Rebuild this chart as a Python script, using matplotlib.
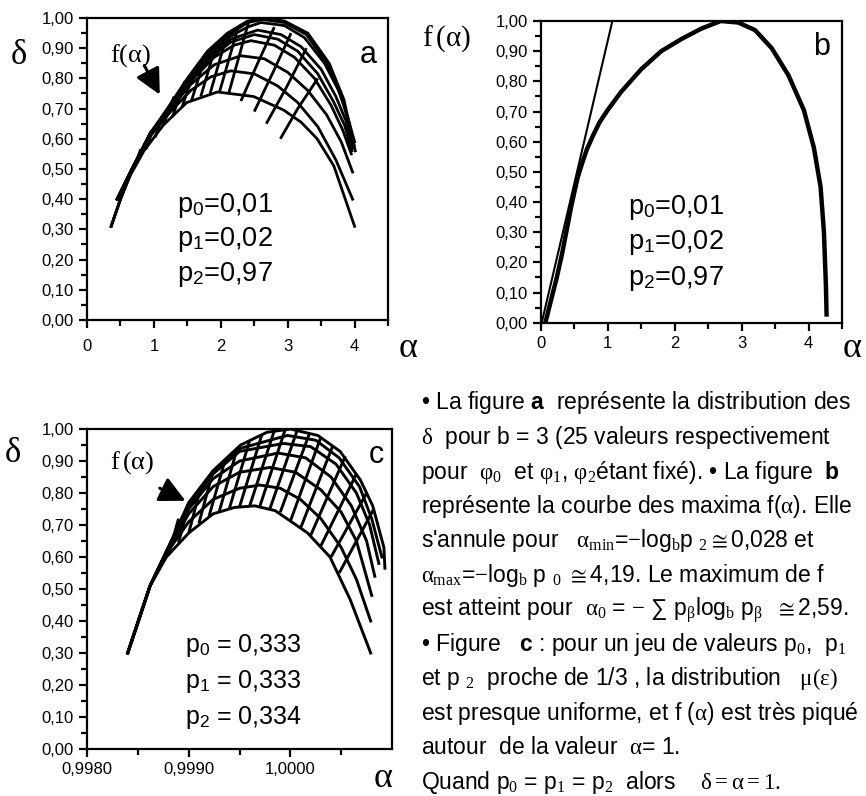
import matplotlib
matplotlib.use('Agg')
import matplotlib.pyplot as plt
from matplotlib.ticker import FixedLocator, FuncFormatter

plt.rcParams['font.family'] = ['Liberation Sans', 'DejaVu Sans']
plt.rcParams['mathtext.fontset'] = 'custom'
plt.rcParams['mathtext.rm'] = 'Liberation Serif'
plt.rcParams['mathtext.it'] = 'Liberation Serif'
plt.rcParams['mathtext.bf'] = 'Liberation Sans:bold'
plt.rcParams['mathtext.sf'] = 'Liberation Sans'

# ---- panel a : mesh of delta(alpha), p = 0.01, 0.02, 0.97
# first family (nested arches), bottom -> top
a_rows_alpha = [
    [0.36, 0.50, 0.65, 0.85, 1.14, 1.49, 1.95, 2.49, 2.94, 3.20, 3.44, 3.69, 4.00],
    [0.45, 0.65, 0.95, 1.25, 1.55, 1.85, 2.15, 2.50, 2.85, 3.15, 3.45, 3.72, 3.97],
    [0.45, 0.65, 0.95, 1.25, 1.55, 1.90, 2.30, 2.65, 3.00, 3.30, 3.58, 3.80, 3.97],
    [0.45, 0.65, 0.95, 1.25, 1.55, 1.90, 2.20, 2.45, 2.80, 3.10, 3.40, 3.65, 3.82, 3.95],
    [0.45, 0.65, 0.95, 1.25, 1.55, 1.85, 2.15, 2.50, 2.85, 3.15, 3.45, 3.68, 3.85, 3.96],
    [0.45, 0.65, 0.95, 1.25, 1.55, 1.85, 2.15, 2.55, 2.90, 3.20, 3.50, 3.72, 3.87, 3.98],
    [0.45, 0.65, 0.95, 1.25, 1.55, 1.85, 2.15, 2.40, 2.60, 2.95, 3.25, 3.55, 3.76, 3.90, 4.00],
    [0.36, 0.50, 0.65, 0.95, 1.22, 1.52, 1.82, 2.12, 2.40, 2.63, 2.95, 3.28, 3.60, 3.82, 3.99],
    [0.36, 0.50, 0.65, 0.95, 1.20, 1.50, 1.80, 2.10, 2.40, 2.65, 2.95, 3.30, 3.62, 3.84, 4.01],
]
a_rows_delta = [
    [0.31, 0.40, 0.48, 0.56, 0.645, 0.72, 0.755, 0.74, 0.695, 0.655, 0.60, 0.51, 0.31],
    [0.40, 0.49, 0.61, 0.69, 0.76, 0.805, 0.825, 0.815, 0.775, 0.72, 0.64, 0.53, 0.40],
    [0.40, 0.49, 0.615, 0.70, 0.78, 0.845, 0.875, 0.865, 0.82, 0.76, 0.68, 0.59, 0.49],
    [0.40, 0.49, 0.62, 0.70, 0.79, 0.87, 0.91, 0.925, 0.91, 0.87, 0.80, 0.71, 0.63, 0.55],
    [0.40, 0.49, 0.62, 0.70, 0.79, 0.87, 0.92, 0.945, 0.93, 0.89, 0.815, 0.725, 0.645, 0.56],
    [0.40, 0.49, 0.62, 0.70, 0.795, 0.875, 0.93, 0.96, 0.945, 0.905, 0.83, 0.74, 0.66, 0.57],
    [0.40, 0.49, 0.62, 0.70, 0.80, 0.885, 0.94, 0.97, 0.985, 0.975, 0.935, 0.85, 0.76, 0.67, 0.59],
    [0.31, 0.40, 0.49, 0.62, 0.70, 0.80, 0.885, 0.945, 0.985, 0.995, 0.985, 0.945, 0.845, 0.73, 0.58],
    [0.31, 0.40, 0.49, 0.62, 0.70, 0.80, 0.89, 0.95, 0.99, 1.00, 0.99, 0.95, 0.85, 0.73, 0.56],
]
# second family (cross strokes)
a_cols_alpha = [
    [0.72, 0.80], [0.88, 0.96], [1.02, 1.10],
    [1.14, 1.30], [1.28, 1.46], [1.42, 1.62], [1.56, 1.78], [1.70, 1.94],
    [1.84, 2.10], [1.98, 2.26], [2.12, 2.42],
    [2.30, 2.55, 2.80], [2.50, 2.78, 3.05], [2.68, 2.98, 3.28], [2.89, 3.15, 3.45],
]
a_cols_delta = [
    [0.51, 0.565], [0.565, 0.615], [0.605, 0.66],
    [0.645, 0.74], [0.675, 0.79], [0.705, 0.835], [0.725, 0.88], [0.74, 0.92],
    [0.75, 0.95], [0.755, 0.97], [0.752, 0.99],
    [0.725, 0.85, 0.97], [0.69, 0.82, 0.95], [0.65, 0.77, 0.90], [0.60, 0.70, 0.80],
]

# ---- panel b : f(alpha) and its tangent
b_alpha = [0.07, 0.16, 0.24, 0.32, 0.39, 0.46, 0.55, 0.62, 0.69, 0.78, 0.88, 1.00,
           1.20, 1.50, 1.80, 2.10, 2.40, 2.69, 2.95, 3.20, 3.45, 3.70, 3.93, 4.08,
           4.18, 4.23, 4.26, 4.27]
b_f = [0.00, 0.08, 0.15, 0.23, 0.31, 0.39, 0.48, 0.53, 0.575, 0.62, 0.665, 0.705,
       0.765, 0.84, 0.90, 0.94, 0.975, 1.00, 0.995, 0.97, 0.91, 0.82, 0.705, 0.58,
       0.45, 0.30, 0.12, 0.02]
tan_alpha = [0.015, 1.07]
tan_f = [0.0, 1.0]

# ---- panel c : mesh, p = 0.333, 0.333, 0.334
c_rows_alpha = [
    [0.99840, 0.99862, 0.99878, 0.99900, 0.99924, 0.99945, 0.99965, 0.99985,
     1.00003, 1.00017, 1.00039, 1.00059, 1.00079],
    [0.99840, 0.99862, 0.99880, 0.99900, 0.99924, 0.99950, 0.99970, 0.99990,
     1.00010, 1.00030, 1.00050, 1.00065, 1.00079],
    [0.99840, 0.99862, 0.99880, 0.99900, 0.99924, 0.99950, 0.99980, 1.00005,
     1.00030, 1.00050, 1.00065, 1.00080],
    [0.99840, 0.99862, 0.99880, 0.99900, 0.99924, 0.99950, 0.99988, 1.00015,
     1.00040, 1.00060, 1.00075, 1.00083],
    [0.99840, 0.99862, 0.99880, 0.99900, 0.99924, 0.99950, 0.99993, 1.00020,
     1.00045, 1.00065, 1.00078, 1.00087],
    [0.99840, 0.99862, 0.99880, 0.99900, 0.99924, 0.99951, 0.99997, 1.00025,
     1.00048, 1.00068, 1.00080, 1.00090],
    [0.99840, 0.99862, 0.99880, 0.99900, 0.99924, 0.99951, 0.99977, 1.00000,
     1.00027, 1.00049, 1.00069, 1.00081, 1.00092, 1.00093],
]
c_rows_delta = [
    [0.30, 0.51, 0.60, 0.675, 0.735, 0.755, 0.76, 0.745, 0.706, 0.675, 0.60, 0.466, 0.30],
    [0.30, 0.51, 0.62, 0.71, 0.78, 0.815, 0.825, 0.815, 0.78, 0.72, 0.63, 0.53, 0.40],
    [0.30, 0.51, 0.625, 0.735, 0.82, 0.865, 0.88, 0.865, 0.81, 0.74, 0.65, 0.48],
    [0.30, 0.51, 0.63, 0.75, 0.845, 0.90, 0.925, 0.91, 0.85, 0.76, 0.65, 0.54],
    [0.30, 0.51, 0.63, 0.76, 0.86, 0.93, 0.955, 0.945, 0.89, 0.80, 0.70, 0.58],
    [0.30, 0.51, 0.63, 0.765, 0.865, 0.94, 0.98, 0.965, 0.91, 0.82, 0.72, 0.60],
    [0.30, 0.51, 0.63, 0.77, 0.87, 0.95, 0.99, 1.00, 0.98, 0.93, 0.84, 0.76, 0.63, 0.565],
]
c_cols_alpha = [
    [0.99880, 0.99890], [0.99890, 0.99901], [0.99900, 0.99912], [0.99910, 0.99924],
    [0.99920, 0.99936], [0.99930, 0.99948], [0.99940, 0.99960], [0.99950, 0.99972],
    [0.99960, 0.99984], [0.99970, 0.99995], [0.99980, 1.00007], [0.99990, 1.00019],
    [1.00000, 1.00030], [1.00010, 1.00042], [1.00020, 1.00054], [1.00030, 1.00065],
    [1.00040, 1.00075], [1.00048, 1.00082],
]
c_cols_delta = [
    [0.605, 0.72], [0.645, 0.775], [0.675, 0.82], [0.705, 0.87],
    [0.728, 0.905], [0.742, 0.942], [0.752, 0.965], [0.757, 0.983],
    [0.76, 0.993], [0.759, 0.999], [0.752, 0.999], [0.74, 0.988],
    [0.712, 0.975], [0.69, 0.95], [0.668, 0.915], [0.635, 0.86],
    [0.60, 0.80], [0.55, 0.75],
]

y_ticks = [0.0, 0.1, 0.2, 0.3, 0.4, 0.5, 0.6, 0.7, 0.8, 0.9, 1.0]
y_minor = [0.05, 0.15, 0.25, 0.35, 0.45, 0.55, 0.65, 0.75, 0.85, 0.95]
x_ticks_ab = [0, 1, 2, 3, 4]
x_minor_ab = [0.5, 1.5, 2.5, 3.5, 4.5]
x_ticks_c = [0.998, 0.999, 1.000]
x_minor_c = [0.9985, 0.9995, 1.0005]

p_text_ab = ['p$_\\mathsf{0}$=0,01', 'p$_\\mathsf{1}$=0,02', 'p$_\\mathsf{2}$=0,97']
p_text_c = ['p$_\\mathsf{0}$ = 0,333', 'p$_\\mathsf{1}$ = 0,333', 'p$_\\mathsf{2}$ = 0,334']

text_lines = [
    '• La figure $\\mathbf{a}$  représente la distribution des',
    '$\\delta$  pour b = 3 (25 valeurs respectivement',
    'pour  $\\varphi_0$  et $\\varphi_1$, $\\varphi_2$étant fixé). • La figure  $\\mathbf{b}$',
    'représente la courbe des maxima f($\\alpha$). Elle',
    "s'annule pour   $\\alpha_{\\mathrm{min}}$=$-$log$_{\\mathrm{b}}$p $_2\\cong$0,028 et",
    '$\\alpha_{\\mathrm{max}}$=$-$log$_{\\mathrm{b}}$ p $_0$ $\\cong$4,19. Le maximum de f',
    'est atteint pour  $\\alpha_0$ = $-$ ∑ p$_\\beta$log$_{\\mathrm{b}}$ p$_\\beta$  $\\cong$2,59.',
    '• Figure   $\\mathbf{c}$ : pour un jeu de valeurs p$_0$,  p$_1$',
    'et p $_2$  proche de 1/3 , la distribution   $\\mu(\\varepsilon)$',
    'est presque uniforme, et f ($\\alpha$) est très piqué',
    'autour  de la valeur  $\\alpha$= 1.',
    'Quand p$_0$ = p$_1$ = p$_2$  alors    $\\delta = \\alpha = 1.$',
]


def comma(v, pos):
    return ('%.2f' % v).replace('.', ',')


def style_axes(ax):
    for s in ax.spines.values():
        s.set_linewidth(1.6)
    ax.yaxis.set_major_locator(FixedLocator(y_ticks))
    ax.yaxis.set_minor_locator(FixedLocator(y_minor))
    ax.yaxis.set_major_formatter(FuncFormatter(comma))
    ax.tick_params(which='major', direction='out', length=6, width=1.6, labelsize=12)
    ax.tick_params(which='minor', direction='out', length=4, width=1.6)
    ax.set_ylim(0, 1.0)


fig = plt.figure(figsize=(8.66, 7.96), dpi=100)
ax_a = fig.add_axes([0.1005, 0.598, 0.3476, 0.3794])
ax_b = fig.add_axes([0.6244, 0.5946, 0.3479, 0.3790])
ax_c = fig.add_axes([0.1005, 0.059, 0.3522, 0.402])

# panel a
for xs, ys in zip(a_rows_alpha, a_rows_delta):
    ax_a.plot(xs, ys, color='black', lw=2.0, solid_joinstyle='round')
for xs, ys in zip(a_cols_alpha, a_cols_delta):
    ax_a.plot(xs, ys, color='black', lw=2.0, solid_capstyle='butt')
ax_a.set_xlim(0, 4.5)
ax_a.xaxis.set_major_locator(FixedLocator(x_ticks_ab))
ax_a.xaxis.set_minor_locator(FixedLocator(x_minor_ab))
style_axes(ax_a)
ax_a.tick_params(axis='x', pad=8)
for i, t in enumerate(p_text_ab):
    ax_a.text(0.30, 0.38 - i * 0.115, t, transform=ax_a.transAxes, fontsize=19.5, va='center')
ax_a.text(0.934, 0.877, 'a', transform=ax_a.transAxes, fontsize=22, ha='center', va='center')
ax_a.text(0.075, 0.877, '$\\mathrm{f(\\alpha)}$', transform=ax_a.transAxes, fontsize=19,
          va='center')
ax_a.annotate('', xy=(0.246, 0.738), xytext=(0.186, 0.851), xycoords='axes fraction',
              arrowprops=dict(arrowstyle='-|>,head_length=0.6,head_width=0.3',
                              color='black', lw=2.2, mutation_scale=26))

# panel b
ax_b.plot(b_alpha, b_f, color='black', lw=3.2, solid_capstyle='butt',
          solid_joinstyle='round')
ax_b.plot(tan_alpha, tan_f, color='black', lw=1.5)
ax_b.set_xlim(0, 4.5)
ax_b.xaxis.set_major_locator(FixedLocator(x_ticks_ab))
ax_b.xaxis.set_minor_locator(FixedLocator(x_minor_ab))
style_axes(ax_b)
for i, t in enumerate(p_text_ab):
    ax_b.text(0.29, 0.383 - i * 0.118, t, transform=ax_b.transAxes, fontsize=19.5, va='center')
ax_b.text(0.933, 0.915, 'b', transform=ax_b.transAxes, fontsize=22, ha='center', va='center')

# panel c
for xs, ys in zip(c_rows_alpha, c_rows_delta):
    ax_c.plot(xs, ys, color='black', lw=2.1, solid_joinstyle='round')
for xs, ys in zip(c_cols_alpha, c_cols_delta):
    ax_c.plot(xs, ys, color='black', lw=2.1, solid_capstyle='butt')
ax_c.set_xlim(0.998, 1.001)
ax_c.xaxis.set_major_locator(FixedLocator(x_ticks_c))
ax_c.xaxis.set_minor_locator(FixedLocator(x_minor_c))
style_axes(ax_c)
ax_c.xaxis.set_major_formatter(FuncFormatter(lambda v, p: ('%.4f' % v).replace('.', ',')))
for i, t in enumerate(p_text_c):
    ax_c.text(0.32, 0.325 - i * 0.114, t, transform=ax_c.transAxes, fontsize=18, va='center')
ax_c.text(0.95, 0.919, 'c', transform=ax_c.transAxes, fontsize=22, ha='center', va='center')
ax_c.text(0.075, 0.894, '$\\mathrm{f\\,(\\alpha)}$', transform=ax_c.transAxes, fontsize=19,
          va='center')
ax_c.annotate('', xy=(0.331, 0.772), xytext=(0.23, 0.819), xycoords='axes fraction',
              arrowprops=dict(arrowstyle='-|>,head_length=0.6,head_width=0.3',
                              color='black', lw=2.2, mutation_scale=26))

# axis symbols
fig.text(0.021, 0.931, '$\\delta$', fontsize=25, ha='center', va='center')
fig.text(0.515, 0.952, '$\\mathrm{f\\,(\\alpha)}$', fontsize=21, ha='center', va='center')
fig.text(0.471, 0.564, '$\\alpha$', fontsize=26, ha='center', va='center')
fig.text(0.984, 0.563, '$\\alpha$', fontsize=26, ha='center', va='center')
fig.text(0.014, 0.431, '$\\delta$', fontsize=25, ha='center', va='center')
fig.text(0.442, 0.023, '$\\alpha$', fontsize=26, ha='center', va='center')

# explanatory text (slightly smaller than the original so no line runs off the edge)
for i, line in enumerate(text_lines):
    fig.text(0.486, 1 - (403 + i * 34.5) / 796, line, fontsize=16.5, va='center')

fig.savefig('out.png', dpi=100)
